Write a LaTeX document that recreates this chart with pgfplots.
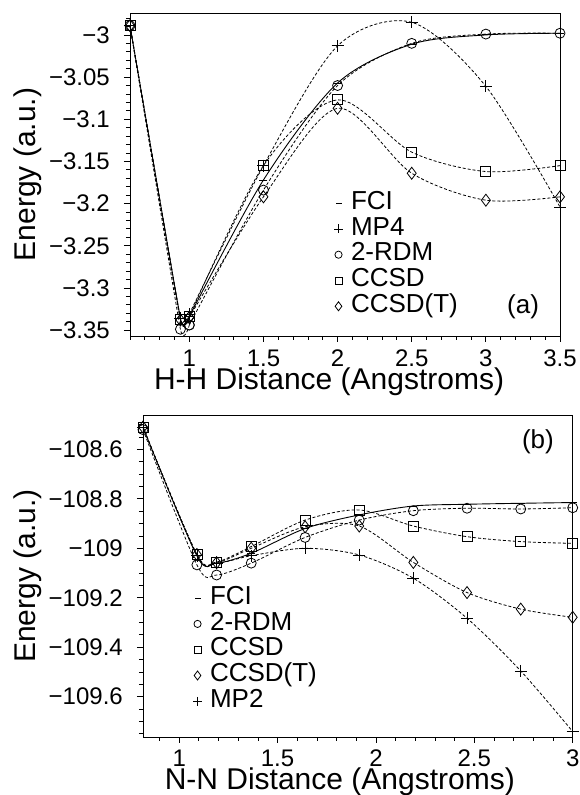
\documentclass[border=0pt]{standalone}
\usepackage{fontspec}
\setmainfont{Liberation Sans}
\usepackage{pgfplots}
\pgfplotsset{compat=1.18}
\usetikzlibrary{plotmarks}

\pgfplotsset{
 panel/.style={scale only axis,axis line style={line width=0.9pt},tick align=outside,tick pos=left,
  major tick length=6pt,minor tick length=4pt,every tick/.style={black,line width=0.8pt},
  tick label style={font=\fontsize{24}{28}\selectfont},
  yticklabel style={anchor=east,inner sep=0pt,xshift=-14pt},
  label style={font=\fontsize{30}{34}\selectfont},clip=false,
  legend cell align=left,
  legend image code/.code={\draw[##1] plot coordinates {(0pt,0pt)};},
  legend style={draw=none,fill=none,font=\fontsize{26}{30}\selectfont,row sep=0pt,column sep=8pt,
   inner sep=0pt,nodes={inner sep=0pt,text height=19pt,text depth=6.8pt}}},
 fci/.style={black,line width=0.9pt,smooth,mark=-,mark size=4pt},
 dsh/.style={black,line width=0.8pt,dash pattern=on 3pt off 2pt,smooth,mark size=5pt,
  mark options={solid,line width=0.8pt}},
 lg/.style={only marks,black,line width=0.8pt,mark size=3.6pt},
 wall/.style={tension=0.2,forget plot}
}

\begin{document}
\begin{tikzpicture}
\useasboundingbox (0,0) rectangle (579pt,795pt);

% (a) H4 -- repulsive wall (0.6-1.0) drawn with low tension, the rest with normal smoothing
\begin{axis}[panel,at={(130pt,459pt)},anchor=south west,width=430pt,height=323pt,
 xmin=0.6,xmax=3.5,ymin=-3.357,ymax=-2.974,
 xtick={1,1.5,2,2.5,3,3.5},xticklabels={1,1.5,2,2.5,3,3.5},
 minor xtick={0.6,0.7,0.8,0.9,1.1,1.2,1.3,1.4,1.6,1.7,1.8,1.9,2.1,2.2,2.3,2.4,2.6,2.7,2.8,2.9,3.1,3.2,3.3,3.4},
 ytick={-3.35,-3.3,-3.25,-3.2,-3.15,-3.1,-3.05,-3},
 yticklabels={−3.35,−3.3,−3.25,−3.2,−3.15,−3.1,−3.05,−3},
 minor ytick={-3.34,-3.33,-3.32,-3.31,-3.29,-3.28,-3.27,-3.26,-3.24,-3.23,-3.22,-3.21,-3.19,-3.18,-3.17,-3.16,-3.14,-3.13,-3.12,-3.11,-3.09,-3.08,-3.07,-3.06,-3.04,-3.03,-3.02,-3.01,-2.99,-2.98},
 xticklabel style={anchor=base,yshift=-25pt},
 xlabel={H-H Distance (Angstroms)},ylabel={Energy (a.u.)},
 xlabel style={at={(axis description cs:0.463,-0.167)},anchor=base},
 ylabel style={at={(axis description cs:-0.237,0.5)},anchor=center},
 legend style={at={(axis description cs:0.474,0.452)},anchor=north west}]
 % FCI
 \addplot[fci,wall] coordinates {(0.6,-2.989)(0.94,-3.336)(1.0,-3.334)};
 \addplot[fci,forget plot] coordinates {(1.0,-3.334)(1.5,-3.172)(2.0,-3.057)(2.5,-3.011)(3.0,-3.0)(3.5,-2.998)};
 % MP4
 \addplot[dsh,mark=+,mark size=6pt,wall] coordinates {(0.6,-2.989)(0.94,-3.336)(1.0,-3.331)};
 \addplot[dsh,mark=+,mark size=6pt,forget plot] coordinates {(1.0,-3.331)(1.5,-3.155)(2.0,-3.013)(2.5,-2.985)(3.0,-3.061)(3.5,-3.204)};
 % 2-RDM
 \addplot[dsh,mark=o,wall] coordinates {(0.6,-2.989)(0.94,-3.349)(1.0,-3.344)};
 \addplot[dsh,mark=o,forget plot] coordinates {(1.0,-3.344)(1.5,-3.184)(2.0,-3.060)(2.5,-3.010)(3.0,-2.999)(3.5,-2.998)};
 % CCSD
 \addplot[dsh,mark=square,wall] coordinates {(0.6,-2.989)(0.94,-3.337)(1.0,-3.334)};
 \addplot[dsh,mark=square,forget plot] coordinates {(1.0,-3.334)(1.5,-3.155)(2.0,-3.077)(2.5,-3.139)(3.0,-3.162)(3.5,-3.155)};
 % CCSD(T)
 \addplot[dsh,mark=diamond,mark size=6pt,wall] coordinates {(0.6,-2.989)(0.94,-3.338)(1.0,-3.335)};
 \addplot[dsh,mark=diamond,mark size=6pt,forget plot] coordinates {(1.0,-3.335)(1.5,-3.192)(2.0,-3.087)(2.5,-3.164)(3.0,-3.196)(3.5,-3.192)};
 \addlegendimage{lg,mark=-,mark size=3pt}\addlegendentry{FCI}
 \addlegendimage{lg,mark=+,mark size=4.5pt}\addlegendentry{MP4}
 \addlegendimage{lg,mark=o}\addlegendentry{2-RDM}
 \addlegendimage{lg,mark=square}\addlegendentry{CCSD}
 \addlegendimage{lg,mark=diamond,mark size=4.5pt}\addlegendentry{CCSD(T)}
 \node[font=\fontsize{26}{30}\selectfont] at (axis description cs:0.914,0.09) {(a)};
\end{axis}

% (b) N2
\begin{axis}[panel,at={(143pt,58pt)},anchor=south west,width=429.7pt,height=322pt,
 xmin=0.816,xmax=3.0,ymin=-109.763,ymax=-108.461,
 xtick={1,1.5,2,2.5,3},xticklabels={1,1.5,2,2.5,3},
 minor xtick={0.9,1.1,1.2,1.3,1.4,1.6,1.7,1.8,1.9,2.1,2.2,2.3,2.4,2.6,2.7,2.8,2.9},
 ytick={-109.6,-109.4,-109.2,-109,-108.8,-108.6},
 yticklabels={−109.6,−109.4,−109.2,−109,−108.8,−108.6},
 minor ytick={-109.75,-109.7,-109.65,-109.55,-109.5,-109.45,-109.35,-109.3,-109.25,-109.15,-109.1,-109.05,-108.95,-108.9,-108.85,-108.75,-108.7,-108.65,-108.55,-108.5},
 xticklabel style={anchor=base,yshift=-23pt},
 xlabel={N-N Distance (Angstroms)},ylabel={Energy (a.u.)},
 xlabel style={at={(axis description cs:0.458,-0.162)},anchor=base},
 ylabel style={at={(axis description cs:-0.268,0.5)},anchor=center},
 legend style={at={(axis description cs:0.116,0.472)},anchor=north west}]
 \addplot[fci,forget plot] coordinates {(0.816,-108.51)(1.09,-109.03)(1.19,-109.06)(1.366,-109.02)(1.64,-108.92)(1.915,-108.865)(2.19,-108.829)(2.463,-108.822)(2.736,-108.818)(3.0,-108.815)};
 \addplot[dsh,mark=o,forget plot] coordinates {(0.816,-108.52)(1.09,-109.067)(1.19,-109.108)(1.366,-109.06)(1.64,-108.956)(1.915,-108.886)(2.19,-108.848)(2.463,-108.838)(2.736,-108.841)(3.0,-108.836)};
 \addplot[dsh,mark=square,forget plot] coordinates {(0.816,-108.51)(1.09,-109.025)(1.19,-109.055)(1.366,-108.993)(1.64,-108.886)(1.915,-108.845)(2.19,-108.91)(2.463,-108.953)(2.736,-108.973)(3.0,-108.98)};
 \addplot[dsh,mark=diamond,mark size=6pt,forget plot] coordinates {(0.816,-108.51)(1.09,-109.025)(1.19,-109.058)(1.366,-109.0)(1.64,-108.913)(1.915,-108.91)(2.19,-109.057)(2.463,-109.179)(2.736,-109.246)(3.0,-109.279)};
 \addplot[dsh,mark=+,mark size=6pt,forget plot] coordinates {(0.816,-108.51)(1.09,-109.03)(1.19,-109.06)(1.366,-109.03)(1.64,-109.0)(1.915,-109.027)(2.19,-109.121)(2.463,-109.283)(2.736,-109.496)(3.0,-109.741)};
 \addlegendimage{lg,mark=-,mark size=3pt}\addlegendentry{FCI}
 \addlegendimage{lg,mark=o}\addlegendentry{2-RDM}
 \addlegendimage{lg,mark=square}\addlegendentry{CCSD}
 \addlegendimage{lg,mark=diamond,mark size=4.5pt}\addlegendentry{CCSD(T)}
 \addlegendimage{lg,mark=+,mark size=4.5pt}\addlegendentry{MP2}
 \node[font=\fontsize{26}{30}\selectfont] at (axis description cs:0.919,0.917) {(b)};
\end{axis}
\end{tikzpicture}
\end{document}
